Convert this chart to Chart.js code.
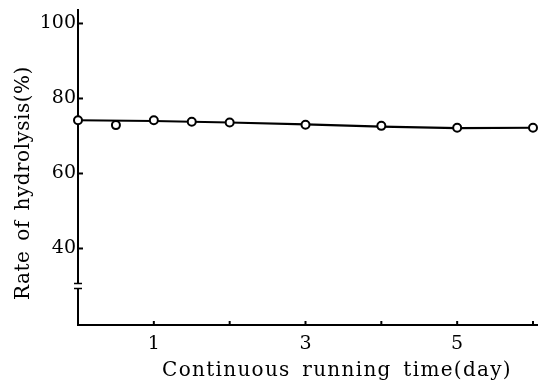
<!DOCTYPE html>
<html><head><meta charset="utf-8">
<script src="https://cdn.jsdelivr.net/npm/chart.js@4"></script>
<style>html,body{margin:0;padding:0;background:#fff}#w{width:539px;height:381px}</style>
</head><body><div id="w"><canvas id="c"></canvas></div>
<script>
const days = [0, 0.5, 1, 1.5, 2, 3, 4, 5, 6];
const hydrolysis = [74.2, 72.9, 74.2, 73.8, 73.6, 73.0, 72.7, 72.2, 72.2];
const fitDays = [0, 1, 2, 3, 4, 5, 6];
const fitValues = [74.2, 74.0, 73.6, 73.1, 72.5, 72.1, 72.2];
const yTicks = [40, 60, 80, 100];
const xTicks = [1, 2, 3, 4, 5, 6];
const xLabels = [1, 3, 5];
const yBreak = 30;
const xTitle = 'Continuous running time(day)';
const yTitle = 'Rate of hydrolysis(%)';

const family = '"DejaVu Serif", "Liberation Serif", serif';
const font = {family: family, size: 19};

const decor = {
  id: 'decor',
  afterDraw(chart) {
    const ctx = chart.ctx, x = chart.scales.x, y = chart.scales.y;
    ctx.save();
    ctx.strokeStyle = '#000';
    ctx.lineWidth = 2;
    const ax = x.getPixelForValue(0);
    const ay = y.bottom;
    // extend x axis line to the right edge
    ctx.beginPath(); ctx.moveTo(x.right, ay); ctx.lineTo(x.right + 5, ay); ctx.stroke();
    yTicks.forEach(v => {
      const py = y.getPixelForValue(v);
      ctx.beginPath(); ctx.moveTo(ax, py); ctx.lineTo(ax + 5, py); ctx.stroke();
    });
    xTicks.forEach(v => {
      const px = x.getPixelForValue(v);
      ctx.beginPath(); ctx.moveTo(px, ay); ctx.lineTo(px, ay - 4); ctx.stroke();
    });
    const pb = y.getPixelForValue(yBreak);
    ctx.fillStyle = '#fff';
    ctx.fillRect(ax - 3, pb - 2, 6, 4);
    ctx.lineWidth = 1.5;
    [pb - 2.5, pb + 2.5].forEach(p => {
      ctx.beginPath(); ctx.moveTo(ax - 4, p); ctx.lineTo(ax + 4, p); ctx.stroke();
    });
    // axis titles
    ctx.fillStyle = '#000';
    ctx.font = '20px ' + family;
    ctx.textAlign = 'center';
    ctx.textBaseline = 'alphabetic';
    ctx.letterSpacing = '1.3px';
    ctx.wordSpacing = '4px';
    ctx.fillText(xTitle, 337, 376);
    ctx.letterSpacing = '0.5px';
    ctx.wordSpacing = '3px';
    ctx.translate(29, 183);
    ctx.rotate(-Math.PI / 2);
    ctx.fillText(yTitle, 0, 0);
    ctx.restore();
  }
};

new Chart(document.getElementById('c'), {
  type: 'scatter',
  data: {
    datasets: [
      {
        type: 'line',
        data: fitDays.map((d, i) => ({x: d, y: fitValues[i]})),
        borderColor: '#000', borderWidth: 2.2, pointRadius: 0, tension: 0, fill: false, order: 2
      },
      {
        data: days.map((d, i) => ({x: d, y: hydrolysis[i]})),
        pointRadius: 4, pointBorderWidth: 2, pointBackgroundColor: '#fff', pointBorderColor: '#000', order: 1
      }
    ]
  },
  options: {
    responsive: true, maintainAspectRatio: false, animation: false,
    clip: false,
    layout: {padding: {top: 8, right: 1, left: 0, bottom: 0}},
    plugins: {legend: {display: false}, tooltip: {enabled: false}},
    scales: {
      x: {
        type: 'linear', min: 0, max: 6.0,
        grid: {display: false, drawTicks: false},
        border: {display: true, color: '#000', width: 2},
        afterBuildTicks(s) { s.ticks = xLabels.map(v => ({value: v})); },
        ticks: {color: '#000', font: font, padding: 8, maxRotation: 0},
        afterFit(s) { s.height = 56; }
      },
      y: {
        min: 19.6, max: 103.7,
        grid: {display: false, drawTicks: false},
        border: {display: true, color: '#000', width: 2},
        afterBuildTicks(s) { s.ticks = yTicks.map(v => ({value: v})); },
        ticks: {color: '#000', font: {family: family, size: 19, lineHeight: 0.8}, padding: 2},
        afterFit(s) { s.width = 78; }
      }
    }
  },
  plugins: [decor]
});
</script>
</body></html>
